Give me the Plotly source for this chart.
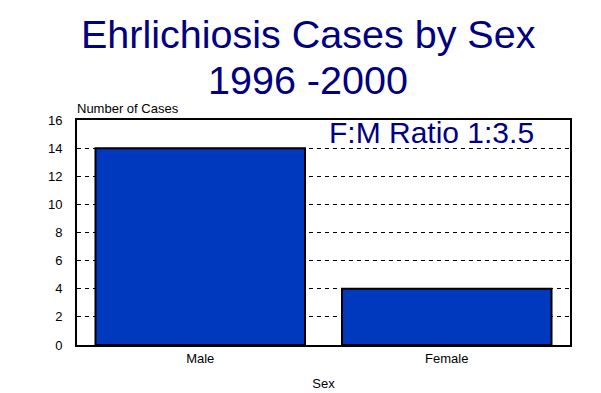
import plotly.graph_objects as go

categories = ["Male", "Female"]
cases = [14, 4]
y_ticks = [0, 2, 4, 6, 8, 10, 12, 14, 16]
title_lines = ["Ehrlichiosis Cases by Sex", "1996 -2000"]
ratio_text = "F:M Ratio 1:3.5"

W, H = 601, 393
L, R, T, B = 69, 562, 112, 344

def px(x):
    return (x - L) / (R - L)

def py(y):
    return (B - y) / (B - T)

fig = go.Figure(go.Bar(
    x=categories, y=cases,
    marker=dict(color="#0039BE", line=dict(color="black", width=2)),
))

font = "Liberation Sans, Arial, sans-serif"
navy = "#000080"

fig.update_layout(
    width=W, height=H,
    margin=dict(l=L, r=W - R, t=T, b=H - B),
    paper_bgcolor="white", plot_bgcolor="white",
    showlegend=False,
    bargap=0.15,
    font=dict(family=font, color="black", size=13),
    xaxis=dict(
        showline=True, linecolor="black", linewidth=2, mirror=True,
        showgrid=False, ticks="", tickfont=dict(size=13),
        title=dict(text="Sex", font=dict(size=13), standoff=14),
    ),
    yaxis=dict(
        range=[0, 16], tickvals=y_ticks, showline=True, linecolor="black",
        linewidth=2, mirror=True, showgrid=True, gridcolor="black",
        gridwidth=1, griddash="4px,4px", zeroline=False, ticks="",
        ticklabelstandoff=10, tickfont=dict(size=13),
    ),
    annotations=[
        dict(text=title_lines[0], xref="paper", yref="paper", x=px(300), y=py(23),
             xanchor="center", yanchor="middle", showarrow=False,
             font=dict(size=39.5, color=navy, family=font)),
        dict(text=title_lines[1], xref="paper", yref="paper", x=px(300), y=py(71),
             xanchor="center", yanchor="middle", showarrow=False,
             font=dict(size=39.5, color=navy, family=font)),
        dict(text=ratio_text, xref="paper", yref="paper", x=px(423), y=py(125),
             xanchor="center", yanchor="middle", showarrow=False,
             font=dict(size=30, color=navy, family=font)),
        dict(text="Number of Cases", xref="paper", yref="paper", x=px(67), y=py(100),
             xanchor="left", yanchor="middle", showarrow=False,
             font=dict(size=13, color="black", family=font)),
    ],
)

fig.write_html("out.html")
